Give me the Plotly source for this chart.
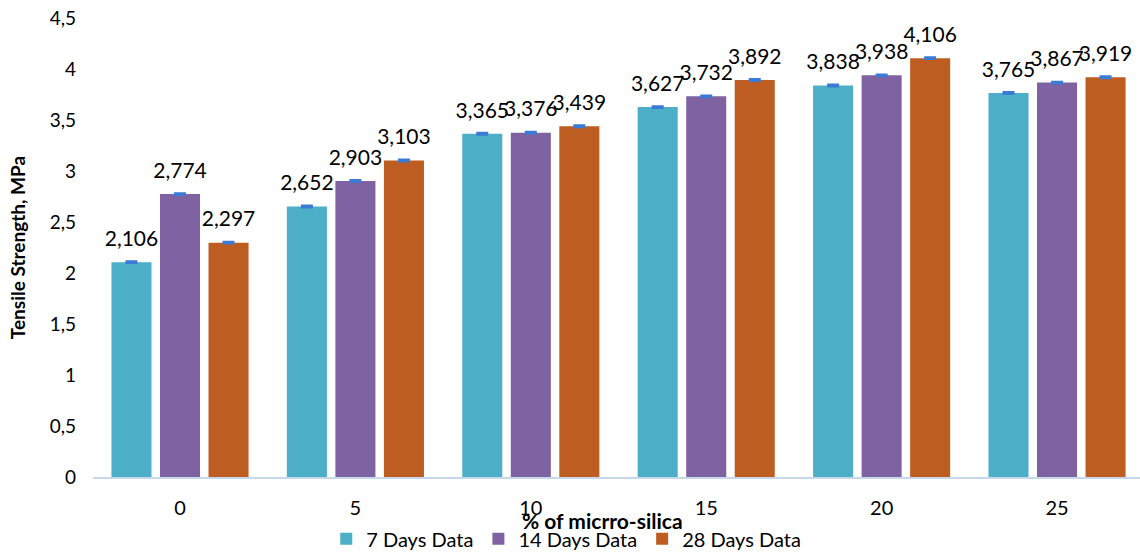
import plotly.graph_objects as go

# Tensile strength (MPa) by micro-silica content and curing age
silica_pct = ["0", "5", "10", "15", "20", "25"]
days7 = [2.106, 2.652, 3.365, 3.627, 3.838, 3.765]
days14 = [2.774, 2.903, 3.376, 3.732, 3.938, 3.867]
days28 = [2.297, 3.103, 3.439, 3.892, 4.106, 3.919]
err = [0.004, 0.004, 0.004, 0.004, 0.004, 0.004]

series = [
    ("7 Days Data", days7, "#4daec8"),
    ("14 Days Data", days14, "#7f62a1"),
    ("28 Days Data", days28, "#be5d22"),
]

FONT = "Lato"
fig = go.Figure()

for name, vals, color in series:
    fig.add_trace(go.Bar(
        x=silica_pct, y=vals, name=name, offsetgroup=name,
        marker=dict(color=color, line=dict(width=0)),
        error_y=dict(type="data", array=err, visible=True,
                     color="#3a7bd5", thickness=3, width=6),
        hoverinfo="x+y",
    ))

# value labels, grouped the same way as the bars
for name, vals, color in series:
    fig.add_trace(go.Scatter(
        x=silica_pct, y=vals, offsetgroup=name, mode="markers+text",
        marker=dict(size=16, opacity=0),
        text=[f"{v:.3f}".replace(".", ",") for v in vals],
        textposition="top center",
        textfont=dict(family=FONT, size=21, color="#000000"),
        showlegend=False, hoverinfo="skip", cliponaxis=False,
    ))

fig.update_layout(
    width=1140, height=552,
    margin=dict(l=93, r=0, t=18, b=75, autoexpand=False),
    paper_bgcolor="white", plot_bgcolor="white",
    barmode="group", bargap=0.17, bargroupgap=0.175,
    scattermode="group", scattergap=0.17,
    separators=",.",
    font=dict(family=FONT, size=19, color="#000000"),
    xaxis=dict(
        type="category", range=[-0.496, 5.473], automargin=False,
        showgrid=False, showline=True, linecolor="#c8d8ec", linewidth=2,
        ticks="", tickfont=dict(size=20), ticklabelstandoff=12,
    ),
    yaxis=dict(
        range=[0, 4.5], dtick=0.5, tickformat=",.1~f", automargin=False,
        showgrid=False, zeroline=False, showline=False,
        ticks="", tickfont=dict(size=19), ticklabelstandoff=16,
        title=dict(text="<b>Tensile Strength, MPa</b>", font=dict(size=19),
                   standoff=18),
    ),
    legend=dict(
        orientation="h", x=0.452, xanchor="center", y=-0.092, yanchor="top",
        font=dict(size=20), itemwidth=30, tracegroupgap=0,
        bgcolor="rgba(0,0,0,0)",
    ),
    annotations=[dict(
        text="<b>% of micrro-silica</b>", xref="paper", yref="paper",
        x=0.487, y=-0.095, xanchor="center", yanchor="middle",
        showarrow=False, font=dict(family=FONT, size=21, color="#000000"),
    )],
)

fig.write_html("out.html")
